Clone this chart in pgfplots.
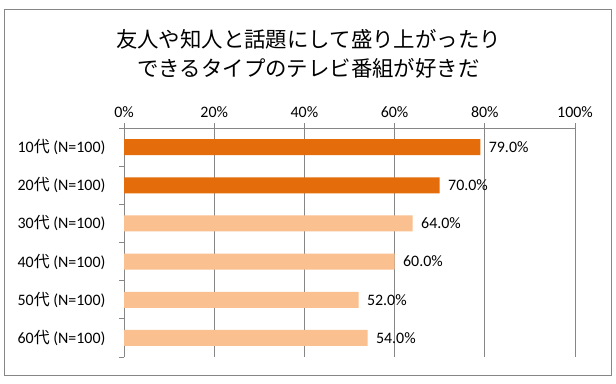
\documentclass[border=0pt]{standalone}
\usepackage{fontspec}
\setmainfont{Carlito}
\newfontfamily\jp{Noto Sans CJK JP}
\usepackage{pgfplots}
\pgfplotsset{compat=1.18}
\pgfkeys{/pgf/number format/assume math mode=true}
\definecolor{dark}{HTML}{E46C0A}
\definecolor{light}{HTML}{FAC090}
\definecolor{gridc}{HTML}{868686}
\begin{document}
\begin{tikzpicture}[x=1bp,y=1bp]
\useasboundingbox (0,0) rectangle (616,383);
\fill[white] (0,0) rectangle (616,383);
\draw[gridc, line width=0.8bp] (4,8) rectangle (611,374);
\node[font=\jp\fontsize{21.5}{26}\selectfont] at (308.5,344) {友人や知人と話題にして盛り上がったり};
\node[font=\jp\fontsize{21.5}{26}\selectfont] at (308.5,315) {できるタイプのテレビ番組が好きだ};
\begin{axis}[at={(124bp,26bp)}, anchor=south west, scale only axis,
  width=451bp, height=229bp,
  /pgf/number format/assume math mode=true,
  xbar, bar width=16bp, bar shift=0pt,
  xmin=0, xmax=100, ymin=-0.5, ymax=5.5, y dir=reverse,
  axis x line*=top, axis y line*=left,
  axis line style={gridc, line width=0.8bp, -},
  xtick={0,20,...,100},
  xticklabel={\pgfmathprintnumber{\tick}\%},
  xmajorgrids, major grid style={gridc, line width=0.8bp},
  tick align=outside, major tick length=5bp, minor tick length=5bp,
  tick style={gridc, line width=0.8bp},
  ytick={0,...,5},
  major y tick style={draw=none},
  minor ytick={-0.5,0.5,...,5.5},
  yticklabels={10{\jp 代} (N=100),20{\jp 代} (N=100),30{\jp 代} (N=100),40{\jp 代} (N=100),50{\jp 代} (N=100),60{\jp 代} (N=100)},
  yticklabel style={font=\fontsize{16}{19}\selectfont, xshift=-10bp},
  xticklabel style={font=\fontsize{16}{19}\selectfont, yshift=2bp},
  point meta=x,
  nodes near coords={\pgfmathprintnumber[fixed,fixed zerofill,precision=1,assume math mode=true]{\pgfplotspointmeta}\%},
  nodes near coords style={font=\fontsize{16}{19}\selectfont, anchor=west, xshift=5bp, text=black},
]
\addplot[fill=dark, draw=none] coordinates {(79,0) (70,1)};
\addplot[fill=light, draw=none] coordinates {(64,2) (60,3) (52,4) (54,5)};
\end{axis}
\end{tikzpicture}
\end{document}
